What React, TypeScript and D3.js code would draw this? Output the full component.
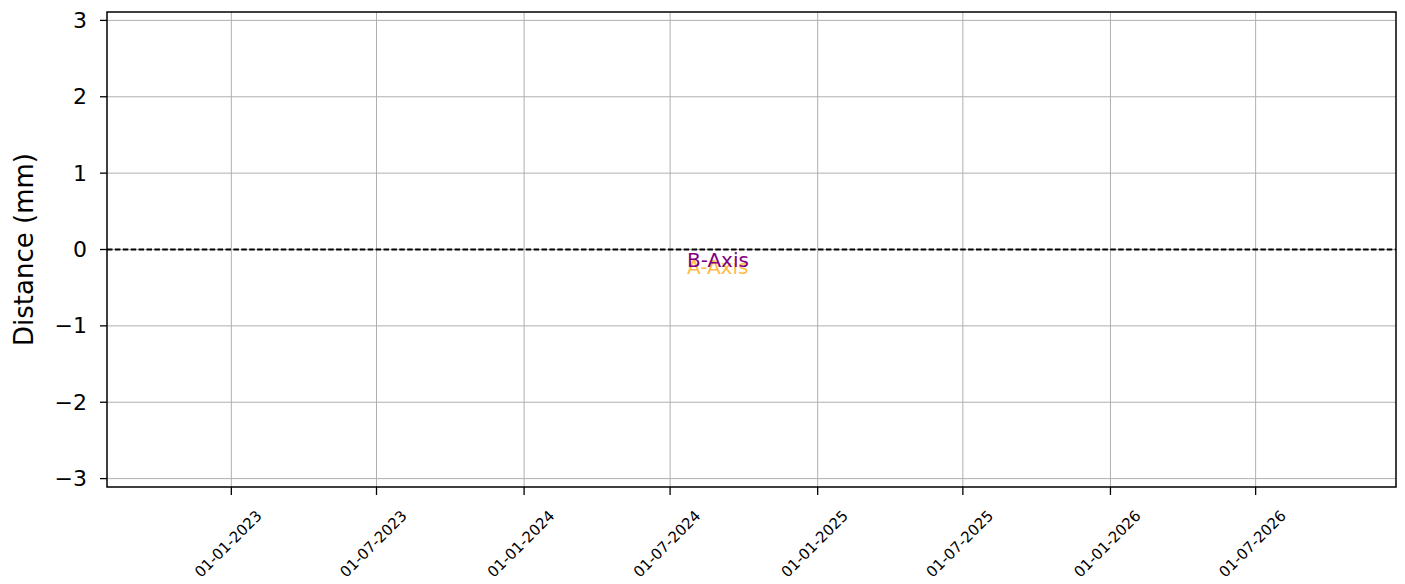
import React from "react";
import * as d3 from "d3";

const xTickLabels = [
  "01-01-2023", "01-07-2023", "01-01-2024", "01-07-2024",
  "01-01-2025", "01-07-2025", "01-01-2026", "01-07-2026",
];
const xLimits = ["30-07-2022", "23-12-2026"];
const yTicks = [-3, -2, -1, 0, 1, 2, 3];
const yLimits = [-3.11, 3.11];
const referenceValue = [0];
const annotationLabels = ["A-Axis", "B-Axis"];
const annotationDates = ["22-07-2024", "22-07-2024"];
const annotationValues = [-0.32, -0.23];
const yLabel = "Distance (mm)";

const W = 1405;
const H = 584;
const left = 107, right = 1396, top = 12, bottom = 487;
const FONT = "DejaVu Sans, sans-serif";
const annotationColors = ["#ffa500", "#800080"];
const annotationOpacity = [0.75, 1];

export default function App() {
  const parse = d3.utcParse("%d-%m-%Y");
  const x = d3.scaleUtc()
    .domain(xLimits.map((s) => parse(s) as Date))
    .range([left, right]);
  const y = d3.scaleLinear().domain(yLimits).range([bottom, top]);
  const xTicks = xTickLabels.map((s) => parse(s) as Date);

  return (
    <svg width={W} height={H} style={{ position: "absolute", left: 0, top: 0, background: "#fff" }}>
      <rect x={0} y={0} width={W} height={H} fill="#fff" />
      {/* grid */}
      {xTicks.map((d, i) => (
        <line key={"gx" + i} x1={x(d)} x2={x(d)} y1={top} y2={bottom} stroke="#b0b0b0" strokeWidth={1} />
      ))}
      {yTicks.map((v, i) => (
        <line key={"gy" + i} x1={left} x2={right} y1={y(v)} y2={y(v)} stroke="#b0b0b0" strokeWidth={1} />
      ))}
      {/* reference line */}
      {referenceValue.map((v, i) => (
        <line key={"ref" + i} x1={left} x2={right} y1={y(v)} y2={y(v)} stroke="#000" strokeWidth={2} strokeDasharray="5.5,2.4" />
      ))}
      {/* annotations */}
      {annotationLabels.map((t, i) => (
        <text key={"an" + i} x={x(parse(annotationDates[i]) as Date)} y={y(annotationValues[i])}
          fill={annotationColors[i]} fillOpacity={annotationOpacity[i]} fontFamily={FONT} fontSize={20}>{t}</text>
      ))}
      {/* spines */}
      <rect x={left} y={top} width={right - left} height={bottom - top} fill="none" stroke="#000" strokeWidth={1.5} />
      {/* x ticks */}
      {xTicks.map((d, i) => (
        <g key={"xt" + i}>
          <line x1={x(d)} x2={x(d)} y1={bottom} y2={bottom + 8} stroke="#000" strokeWidth={1.3} />
          <text transform={`translate(${x(d) - 3},${bottom + 57}) rotate(-45)`} textAnchor="middle"
            dominantBaseline="central" fontFamily={FONT} fontSize={15} fill="#000">{xTickLabels[i]}</text>
        </g>
      ))}
      {/* y ticks */}
      {yTicks.map((v, i) => (
        <g key={"yt" + i}>
          <line x1={left - 7} x2={left} y1={y(v)} y2={y(v)} stroke="#000" strokeWidth={1.3} />
          <text x={left - 20} y={y(v)} textAnchor="end" dominantBaseline="central"
            fontFamily={FONT} fontSize={22} fill="#000">{v < 0 ? "\u2212" + Math.abs(v) : String(v)}</text>
        </g>
      ))}
      <text transform={`translate(24,${(top + bottom) / 2}) rotate(-90)`} textAnchor="middle"
        dominantBaseline="central" fontFamily={FONT} fontSize={26} fill="#000">{yLabel}</text>
    </svg>
  );
}
